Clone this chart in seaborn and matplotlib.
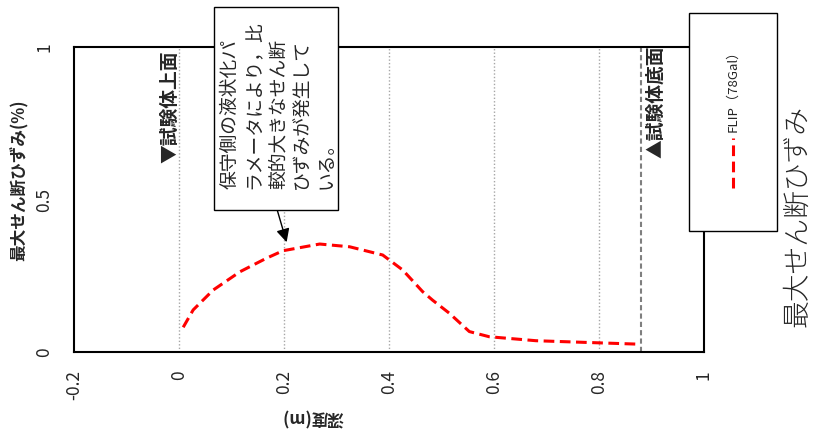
import numpy as np
import pandas as pd

# visualization
import matplotlib
matplotlib.use("Agg")
import matplotlib.pyplot as plt
from matplotlib.patches import Rectangle
from matplotlib.lines import Line2D
import seaborn as sns

# data
depth = [0.008, 0.027, 0.065, 0.116, 0.166, 0.198, 0.268, 0.325, 0.388,
         0.426, 0.464, 0.483, 0.515, 0.553, 0.591, 0.68, 0.80, 0.87]
strain = [0.081, 0.138, 0.203, 0.263, 0.307, 0.332, 0.354, 0.345, 0.318,
          0.269, 0.198, 0.170, 0.127, 0.067, 0.050, 0.037, 0.030, 0.026]
x_ticks = [-0.2, 0, 0.2, 0.4, 0.6, 0.8, 1]
x_ticklabels = ["-0.2", "0", "0.2", "0.4", "0.6", "0.8", "1"]
y_ticks = [0, 0.5, 1]
y_ticklabels = ["0", "0.5", "1"]
grid_depths = [0, 0.2, 0.4, 0.6, 0.8]
top_depth = 0
bottom_depth = 0.88
series_name = "FLIP（78Gal）"
note = "保守側の液状化パ\nラメータにより，比\n較的大きなせん断\nひずみが発生して\nいる。"

W, H = 814, 430


def fx(px):
    return px / W


def fy(py):
    return 1 - py / H


sns.set_style("white")
plt.rcParams['font.family'] = ['Noto Sans CJK JP', 'DejaVu Sans']

df = pd.DataFrame({"depth": depth, "strain": strain})

fig = plt.figure(figsize=(W / 100, H / 100), dpi=100)
ax = fig.add_axes([fx(74), fy(352), (704 - 74) / W, (352 - 47) / H])

for g in grid_depths:
    ax.axvline(g, color="#a6a6a6", lw=1, ls=(0, (1, 1.5)), zorder=1)
ax.axvline(bottom_depth, color="#7f7f7f", lw=1.5, ls=(0, (2.5, 1.5)), zorder=1)

sns.lineplot(data=df, x="depth", y="strain", ax=ax, color="red", lw=2.2, zorder=3)
ax.lines[-1].set_dashes((3.5, 1.8))

ax.set_xlim(-0.2, 1)
ax.set_ylim(0, 1)
ax.set_xticks(x_ticks)
ax.set_xticklabels(x_ticklabels, rotation=90, fontsize=12.5)
ax.set_yticks(y_ticks)
ax.set_yticklabels(y_ticklabels, rotation=90, fontsize=12.5, va="center")
ax.tick_params(axis="x", length=0, pad=13)
ax.tick_params(axis="y", length=0, pad=15)
ax.set_xlabel("")
ax.set_ylabel("")
for s in ax.spines.values():
    s.set_color("black")
    s.set_linewidth(1.5)

# axis titles
fig.text(fx(20), fy(180), "最大せん断ひずみ(%)", rotation=90, ha="center", va="center",
         fontsize=12, fontweight="bold")
fig.text(fx(313), fy(417), "深度(m)", rotation=180, ha="center", va="center",
         fontsize=12, fontweight="bold")

# test body markers
fig.text(fx(170), fy(163), "▼試験体上面", rotation=90, ha="center", va="bottom",
         fontsize=13.5, fontweight="bold")
fig.text(fx(656), fy(158), "▲試験体底面", rotation=90, ha="center", va="bottom",
         fontsize=13.5, fontweight="bold")

# callout box
fig.add_artist(Rectangle((fx(214), fy(210)), (338 - 214) / W, (210 - 7) / H,
                         transform=fig.transFigure, facecolor="white",
                         edgecolor="black", lw=1, zorder=5))
fig.text(fx(278), fy(189), note, rotation=90, ha="center", va="bottom",
         multialignment="left", linespacing=1.18, fontsize=13.5, zorder=6)
ax.annotate("", xy=(0.205, 0.36), xytext=(0.187, 0.466),
            arrowprops=dict(arrowstyle="-|>,head_length=0.8,head_width=0.4",
                            color="black", lw=1, shrinkA=0, shrinkB=0),
            annotation_clip=False)

# legend box
fig.add_artist(Rectangle((fx(689), fy(231)), (777 - 689) / W, (231 - 13) / H,
                         transform=fig.transFigure, facecolor="white",
                         edgecolor="black", lw=1, zorder=5))
fig.text(fx(733), fy(132), series_name, rotation=90, ha="center", va="bottom",
         fontsize=9.5, zorder=6)
leg_line = Line2D([fx(733), fx(733)], [fy(188), fy(138)], transform=fig.transFigure,
                  color="red", lw=2.2, zorder=6)
leg_line.set_dashes((3.5, 1.8))
fig.add_artist(leg_line)

# chart title on the right
fig.text(fx(797), fy(216), "最大せん断ひずみ", rotation=90, ha="center", va="center",
         fontsize=20, fontweight="light")

fig.savefig("out.png", dpi=100)
